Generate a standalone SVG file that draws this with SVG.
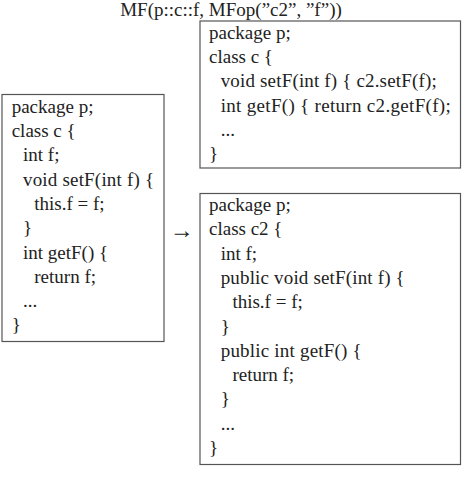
<svg xmlns="http://www.w3.org/2000/svg" width="467" height="478" viewBox="0 0 467 478">
<style>
text{font-family:"Liberation Serif","Times New Roman",serif;font-size:19px;fill:#222}
.box{fill:#fff;stroke:#555;stroke-width:1.2}
.arrow{font-size:24px}
</style>
<rect width="467" height="478" fill="#fff"/>
<text x="231" y="16" text-anchor="middle">MF(p::c::f, MFop(”c2”, ”f”))</text>
<g id="node-original">
<rect class="box" x="2" y="94.5" width="162" height="247"/>
<text x="11.7" y="112.7">package p;</text>
<text x="11.7" y="137">class c {</text>
<text x="23" y="161.3">int f;</text>
<text x="23" y="185.6" textLength="131" lengthAdjust="spacing">void setF(int f) {</text>
<text x="34.3" y="209.9">this.f = f;</text>
<text x="23" y="234.2">}</text>
<text x="23" y="258.5">int getF() {</text>
<text x="34.3" y="282.8">return f;</text>
<text x="23" y="307.1">...</text>
<text x="11.7" y="331.4">}</text>
</g>
<g id="node-delegating">
<rect class="box" x="200" y="21" width="260.5" height="147"/>
<text x="209" y="38.8">package p;</text>
<text x="209" y="63.1">class c {</text>
<text x="220.7" y="87.4" textLength="216" lengthAdjust="spacing">void setF(int f) { c2.setF(f);</text>
<text x="220.7" y="111.7" textLength="230" lengthAdjust="spacing">int getF() { return c2.getF(f);</text>
<text x="220.7" y="136">...</text>
<text x="209" y="160.3">}</text>
</g>
<g id="node-new">
<rect class="box" x="200" y="193.5" width="260.5" height="271"/>
<text x="209" y="211">package p;</text>
<text x="209" y="235.3">class c2 {</text>
<text x="220.7" y="259.6">int f;</text>
<text x="220.7" y="283.9" textLength="184" lengthAdjust="spacing">public void setF(int f) {</text>
<text x="232.4" y="308.2">this.f = f;</text>
<text x="220.7" y="332.5">}</text>
<text x="220.7" y="356.8" textLength="141" lengthAdjust="spacing">public int getF() {</text>
<text x="232.4" y="381.1">return f;</text>
<text x="220.7" y="405.4">}</text>
<text x="220.7" y="429.7">...</text>
<text x="209" y="454">}</text>
</g>
<g id="connectors">
<text class="arrow" x="181.7" y="238" text-anchor="middle">→</text>
</g>
</svg>
